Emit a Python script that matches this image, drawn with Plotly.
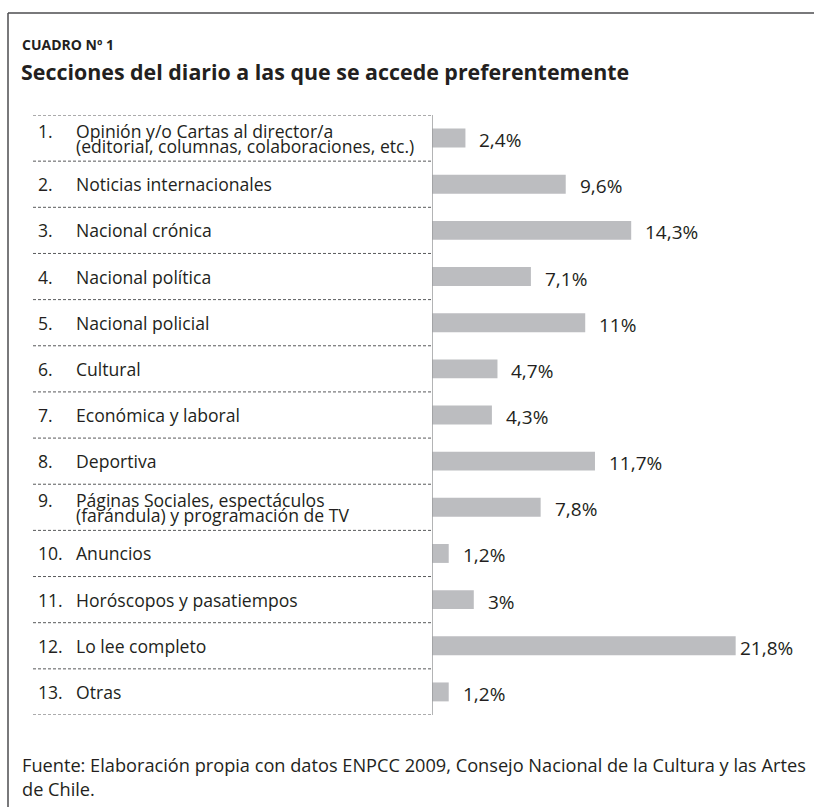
import plotly.graph_objects as go

# Secciones del diario y porcentaje de lectura preferente
numeros = ["1.", "2.", "3.", "4.", "5.", "6.", "7.", "8.", "9.", "10.", "11.", "12.", "13."]
secciones = [
    "Opinión y/o Cartas al director/a\n(editorial, columnas, colaboraciones, etc.)",
    "Noticias internacionales",
    "Nacional crónica",
    "Nacional política",
    "Nacional policial",
    "Cultural",
    "Económica y laboral",
    "Deportiva",
    "Páginas Sociales, espectáculos\n(farándula) y programación de TV",
    "Anuncios",
    "Horóscopos y pasatiempos",
    "Lo lee completo",
    "Otras",
]
porcentajes = [2.4, 9.6, 14.3, 7.1, 11, 4.7, 4.3, 11.7, 7.8, 1.2, 3, 21.8, 1.2]
etiquetas = ["2,4%", "9,6%", "14,3%", "7,1%", "11%", "4,7%", "4,3%", "11,7%", "7,8%",
             "1,2%", "3%", "21,8%", "1,2%"]

titulo_sup = "CUADRO Nº 1"
titulo = "Secciones del diario a las que se accede preferentemente"
fuente = ("Fuente: Elaboración propia con datos ENPCC 2009, Consejo Nacional de la Cultura y las Artes"
          "<br>de Chile.")

# Geometría de la página (px)
W, H = 814, 807
ML, MR, MT, MB = 432, 14, 115, 92
PW = W - ML - MR
PH = H - MT - MB
PX_POR_PUNTO = 13.93
FONT = "Open Sans"
TXT = "#231f20"
SZ = 17.6

n = len(secciones)
ys = list(range(n))


def px_x(px):
    return (px - ML) / PW


def px_y(py):
    return 1 - (py - MT) / PH


fig = go.Figure()
fig.add_trace(go.Bar(
    x=porcentajes, y=ys, orientation="h",
    marker=dict(color="#bcbdc0", line=dict(width=0)),
    width=0.41, hoverinfo="skip",
))

annotations = []
shapes = []

# Etiquetas de valor
vmax = max(porcentajes)
for y, v, t in zip(ys, porcentajes, etiquetas):
    annotations.append(dict(
        x=v, y=y, xref="x", yref="y", text=t, showarrow=False,
        xanchor="left", yanchor="middle", xshift=3 if v == vmax else 13, yshift=-2,
        borderpad=0, font=dict(family=FONT, size=19, color=TXT),
    ))

# Número y nombre de cada sección (el número va a la altura de la primera línea)
paso = 15
for y, num, sec in zip(ys, numeros, secciones):
    lineas = sec.split("\n")
    off0 = (len(lineas) - 1) * paso / 2
    annotations.append(dict(
        x=px_x(37), y=y, xref="paper", yref="y", text=num, showarrow=False,
        xanchor="left", yanchor="middle", yshift=off0, borderpad=0,
        font=dict(family=FONT, size=SZ, color=TXT),
    ))
    for k, linea in enumerate(lineas):
        annotations.append(dict(
            x=px_x(75), y=y, xref="paper", yref="y", text=linea, showarrow=False,
            xanchor="left", yanchor="middle", yshift=off0 - k * paso, borderpad=0,
            font=dict(family=FONT, size=SZ, color=TXT),
        ))

# Separadores punteados entre filas
for k in range(n + 1):
    shapes.append(dict(
        type="line", xref="paper", yref="y", x0=px_x(33), x1=0, y0=k - 0.5, y1=k - 0.5,
        line=dict(color="#58595b", width=1, dash="3px,2px"),
    ))

# Eje vertical
shapes.append(dict(
    type="line", xref="x", yref="y", x0=0, x1=0, y0=-0.5, y1=n - 0.5,
    line=dict(color="#9a9b9d", width=1.5),
))

# Marco del cuadro
shapes.append(dict(
    type="line", xref="paper", yref="paper", x0=px_x(8), x1=px_x(8), y0=px_y(13), y1=px_y(H + 5),
    line=dict(color="#4d4d4f", width=1.5),
))
shapes.append(dict(
    type="line", xref="paper", yref="paper", x0=px_x(8), x1=px_x(W + 5), y0=px_y(13), y1=px_y(13),
    line=dict(color="#4d4d4f", width=1.5),
))

# Títulos y fuente
annotations.append(dict(
    x=px_x(21), y=px_y(45), xref="paper", yref="paper", text=f"<b>{titulo_sup}</b>",
    showarrow=False, xanchor="left", yanchor="middle", borderpad=0,
    font=dict(family=FONT, size=14, color=TXT),
))
annotations.append(dict(
    x=px_x(20), y=px_y(72), xref="paper", yref="paper", text=f"<b>{titulo}</b>",
    showarrow=False, xanchor="left", yanchor="middle", borderpad=0,
    font=dict(family=FONT, size=21.4, color=TXT),
))
annotations.append(dict(
    x=px_x(21), y=px_y(752), xref="paper", yref="paper", text=fuente,
    showarrow=False, xanchor="left", yanchor="top", align="left", borderpad=0,
    font=dict(family=FONT, size=18.2, color=TXT),
))

fig.update_layout(
    width=W, height=H,
    margin=dict(l=ML, r=MR, t=MT, b=MB, pad=0),
    paper_bgcolor="white", plot_bgcolor="white",
    showlegend=False,
    xaxis=dict(range=[0, PW / PX_POR_PUNTO], visible=False, fixedrange=True),
    yaxis=dict(range=[n - 0.5, -0.5], visible=False, fixedrange=True),
    annotations=annotations, shapes=shapes,
)

fig.write_html("out.html")
